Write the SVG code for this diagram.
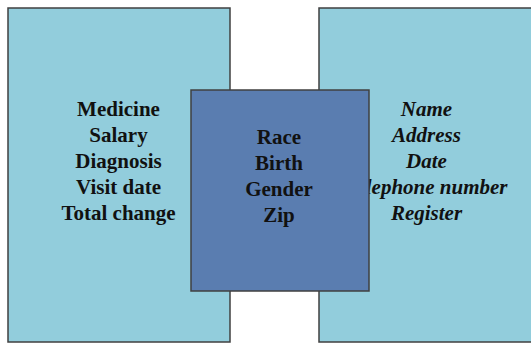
<svg xmlns="http://www.w3.org/2000/svg" width="531" height="345" viewBox="0 0 531 345">
<style>
.box{stroke:#404040;stroke-width:1.5}
.light{fill:#92CDDC}
.mid{fill:#5A7DB0}
text{font-family:"Liberation Serif","Times New Roman",serif;font-weight:bold;font-size:21px;fill:#111;text-anchor:middle}
.it{font-style:italic}
</style>
<rect width="531" height="345" fill="#fff"/>
<g id="left">
<rect class="box light" x="8" y="8" width="222" height="334"/>
<text x="118.5" y="116">Medicine</text>
<text x="118.5" y="142">Salary</text>
<text x="118.5" y="168">Diagnosis</text>
<text x="118.5" y="194">Visit date</text>
<text x="118.5" y="220">Total change</text>
</g>
<g id="right">
<rect class="box light" x="319" y="8" width="240" height="334"/>
<text class="it" x="426.5" y="116">Name</text>
<text class="it" x="426.5" y="142">Address</text>
<text class="it" x="426.5" y="168">Date</text>
<text class="it" x="426.5" y="194">Telephone number</text>
<text class="it" x="426.5" y="220">Register</text>
</g>
<g id="middle">
<rect class="box mid" x="191" y="90" width="178" height="201"/>
<text x="279" y="144">Race</text>
<text x="279" y="170">Birth</text>
<text x="279" y="196">Gender</text>
<text x="279" y="222">Zip</text>
</g>
<g id="connectors"></g>
</svg>
